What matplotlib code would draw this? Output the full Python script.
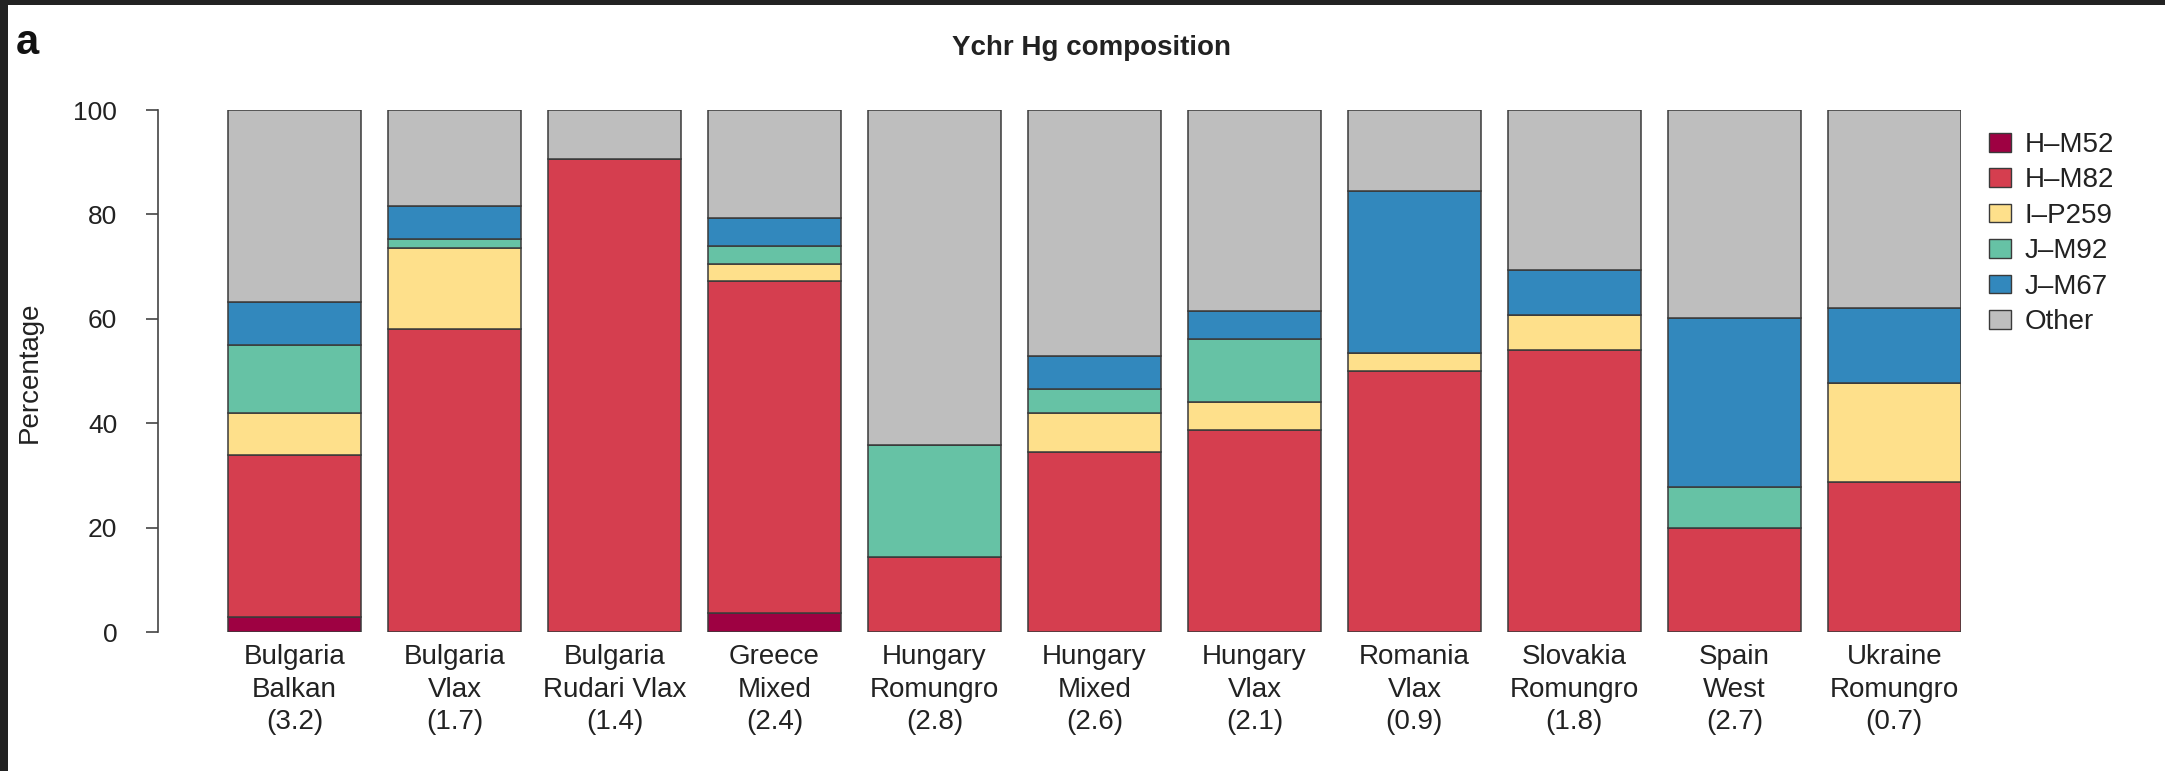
import numpy as np
import matplotlib
matplotlib.use("Agg")
import matplotlib.pyplot as plt
from matplotlib.patches import Rectangle, Patch

plt.rcParams['font.family'] = ['Liberation Sans', 'DejaVu Sans']

# populations (x labels) and the value shown under each name
populations = ["Bulgaria\nBalkan", "Bulgaria\nVlax", "Bulgaria\nRudari Vlax",
               "Greece\nMixed", "Hungary\nRomungro", "Hungary\nMixed",
               "Hungary\nVlax", "Romania\nVlax", "Slovakia\nRomungro",
               "Spain\nWest", "Ukraine\nRomungro"]
pop_values = ["3.2", "1.7", "1.4", "2.4", "2.8", "2.6", "2.1", "0.9", "1.8", "2.7", "0.7"]

# haplogroup percentages per population
haplogroups = ["H\u2013M52", "H\u2013M82", "I\u2013P259", "J\u2013M92", "J\u2013M67", "Other"]
h_m52 = [2.9, 0.0, 0.0, 3.7, 0.0, 0.0, 0.0, 0.0, 0.0, 0.0, 0.0]
h_m82 = [31.0, 58.0, 90.6, 63.5, 14.3, 34.5, 38.7, 50.0, 54.1, 20.0, 28.7]
i_p259 = [8.0, 15.5, 0.0, 3.3, 0.0, 7.5, 5.3, 3.4, 6.7, 0.0, 19.0]
j_m92 = [13.0, 1.8, 0.0, 3.5, 21.5, 4.5, 12.2, 0.0, 0.0, 7.7, 0.0]
j_m67 = [8.4, 6.3, 0.0, 5.4, 0.0, 6.3, 5.3, 31.0, 8.5, 32.4, 14.4]
other = [36.7, 18.4, 9.4, 20.6, 64.2, 47.2, 38.5, 15.6, 30.7, 39.9, 37.9]

colors = ["#9E0142", "#D53E4F", "#FEE08B", "#66C2A5", "#3288BD", "#BEBEBE"]
edge = "#3a3a3a"

W, H = 2165, 771
fig = plt.figure(figsize=(W / 100, H / 100), dpi=100)
fig.patch.set_facecolor("white")

# plot area in pixels: spine at x=158, bars from 228 to 1961, y 0..100 -> 632..110
ax = fig.add_axes([158 / W, (H - 632) / H, (1961 - 158) / W, (632 - 110) / H])
x = np.arange(len(populations)) * 1.2
bottom = np.zeros(len(populations))
for vals, col in zip([h_m52, h_m82, i_p259, j_m92, j_m67, other], colors):
    vals = np.array(vals)
    ax.bar(x, vals, width=1.0, bottom=bottom, color=col, edgecolor=edge,
           linewidth=1.1, align="center")
    bottom += vals

ax.set_xlim(-1.024, 12.5)
ax.set_ylim(0, 100)
for s in ["top", "right", "bottom"]:
    ax.spines[s].set_visible(False)
ax.spines["left"].set_bounds(0, 100)
ax.spines["left"].set_color("#444444")
ax.spines["left"].set_linewidth(1.2)
ax.set_yticks([0, 20, 40, 60, 80, 100])
ax.tick_params(axis="y", length=8.3, width=1.2, color="#444444", pad=21,
               labelsize=19, labelcolor="#222222")
ax.set_xticks(x)
ax.set_xticklabels([f"{p}\n({v})" for p, v in zip(populations, pop_values)],
                   fontsize=20, color="#222222")
for lbl in ax.get_xticklabels():
    lbl.set_linespacing(1.34)
ax.tick_params(axis="x", length=0, pad=8.5)

# legend
handles = [Patch(facecolor=c, edgecolor=edge, linewidth=1.0) for c in colors]
fig.legend(handles, haplogroups, loc="upper left",
           bbox_to_anchor=(1989 / W, 1 - 132 / H), frameon=False,
           fontsize=20, handlelength=0.79, handleheight=0.65,
           handletextpad=0.5, labelspacing=0.34, borderpad=0, borderaxespad=0,
           labelcolor="#222222")

fig.text(1091 / W, 1 - 48 / H, "Ychr Hg composition", ha="center", va="center",
         fontsize=20, fontweight="bold", color="#222222")
fig.text(30 / W, 1 - 372 / H, "Percentage", ha="center", va="center",
         rotation=90, fontsize=20, color="#222222")
fig.text(27 / W, 1 - 43 / H, "a", ha="center", va="center",
         fontsize=30, fontweight="bold", color="#111111")

# dark frame along the top and left edges
fig.patches.append(Rectangle((0, 1 - 5 / H), 1, 5 / H, transform=fig.transFigure,
                             facecolor="#222222", edgecolor="none"))
fig.patches.append(Rectangle((0, 0), 8 / W, 1, transform=fig.transFigure,
                             facecolor="#222222", edgecolor="none"))

fig.savefig("out.png", dpi=100)
